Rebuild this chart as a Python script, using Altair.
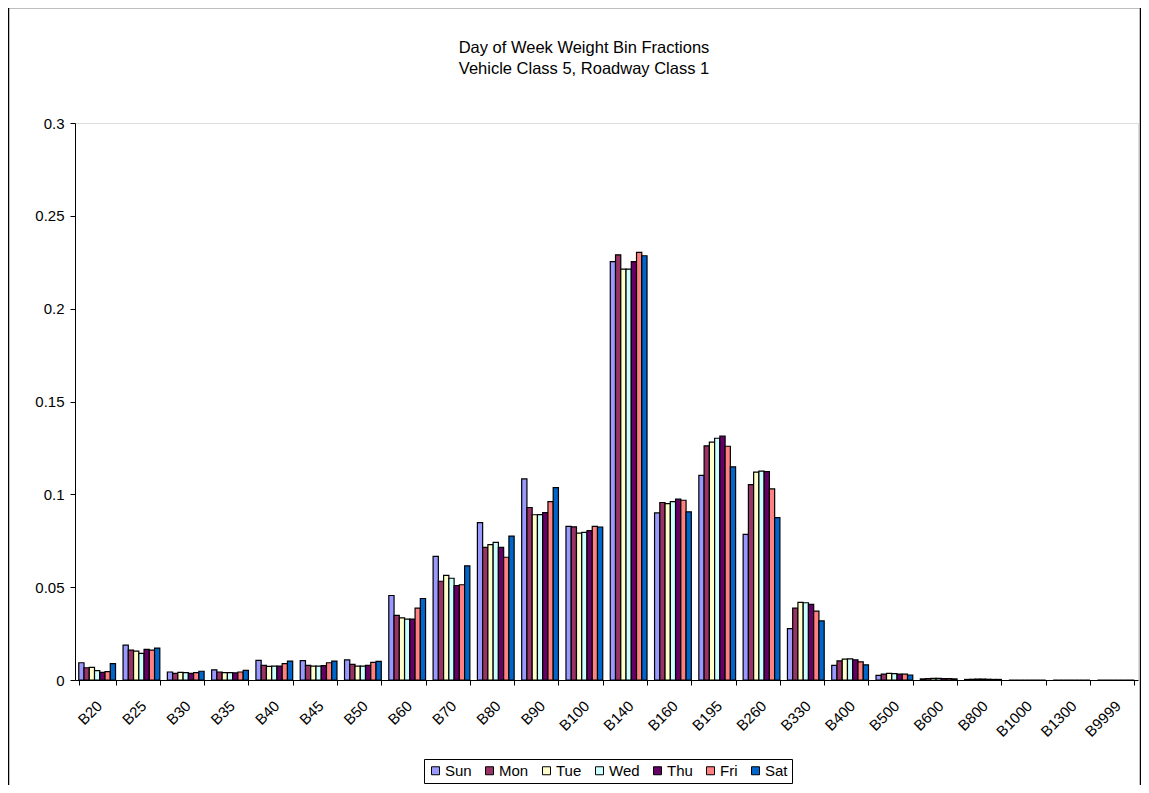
import altair as alt
import pandas as pd

bins = ["B20", "B25", "B30", "B35", "B40", "B45", "B50", "B60", "B70", "B80", "B90",
        "B100", "B140", "B160", "B195", "B260", "B330", "B400", "B500", "B600", "B800",
        "B1000", "B1300", "B9999"]
days = ["Sun", "Mon", "Tue", "Wed", "Thu", "Fri", "Sat"]
colors = ["#9999FF", "#993366", "#FFFFCC", "#CCFFFF", "#660066", "#FF8080", "#0066CC"]

sun = [0.0093, 0.0188, 0.0043, 0.0055, 0.0106, 0.0104, 0.0108, 0.0455, 0.0666, 0.0848, 0.1083,
       0.0827, 0.2253, 0.0900, 0.1102, 0.0784, 0.0277, 0.0079, 0.0025, 0.0006, 0.0003, 0, 0, 0]
mon = [0.0066, 0.0161, 0.0036, 0.0043, 0.0079, 0.0079, 0.0084, 0.0348, 0.0532, 0.0714, 0.0929,
       0.0825, 0.2290, 0.0956, 0.1261, 0.1052, 0.0387, 0.0103, 0.0032, 0.0008, 0.0004, 0, 0, 0]
tue = [0.0068, 0.0156, 0.0041, 0.0040, 0.0073, 0.0075, 0.0075, 0.0335, 0.0564, 0.0729, 0.0890,
       0.0791, 0.2213, 0.0950, 0.1281, 0.1120, 0.0418, 0.0112, 0.0036, 0.0009, 0.0005, 0, 0, 0]
wed = [0.0050, 0.0143, 0.0040, 0.0040, 0.0075, 0.0075, 0.0075, 0.0328, 0.0548, 0.0741, 0.0891,
       0.0795, 0.2213, 0.0961, 0.1302, 0.1125, 0.0416, 0.0114, 0.0034, 0.0009, 0.0005, 0, 0, 0]
thu = [0.0041, 0.0165, 0.0036, 0.0038, 0.0075, 0.0077, 0.0079, 0.0328, 0.0509, 0.0714, 0.0902,
       0.0804, 0.2253, 0.0974, 0.1313, 0.1122, 0.0407, 0.0109, 0.0032, 0.0008, 0.0004, 0, 0, 0]
fri = [0.0045, 0.0161, 0.0040, 0.0043, 0.0088, 0.0093, 0.0095, 0.0387, 0.0513, 0.0661, 0.0961,
       0.0827, 0.2303, 0.0968, 0.1259, 0.1029, 0.0371, 0.0098, 0.0032, 0.0007, 0.0003, 0, 0, 0]
sat = [0.0088, 0.0172, 0.0047, 0.0052, 0.0102, 0.0102, 0.0100, 0.0439, 0.0615, 0.0775, 0.1036,
       0.0824, 0.2285, 0.0906, 0.1148, 0.0875, 0.0318, 0.0082, 0.0027, 0.0006, 0.0003, 0, 0, 0]

y_ticks = [0, 0.05, 0.1, 0.15, 0.2, 0.25, 0.3]
title_lines = ["Day of Week Weight Bin Fractions", "Vehicle Class 5, Roadway Class 1"]

series = [sun, mon, tue, wed, thu, fri, sat]
rows = []
for d, vals in zip(days, series):
    for b, v in zip(bins, vals):
        rows.append({"bin": b, "day": d, "value": v})
df = pd.DataFrame(rows)

FONT = "Arial, Liberation Sans, sans-serif"
W, H = 1063, 557

bars = alt.Chart(df).mark_bar(stroke="black", strokeWidth=1.2).encode(
    x=alt.X("bin:N", sort=bins,
            scale=alt.Scale(paddingInner=0.17, paddingOuter=0.085),
            axis=alt.Axis(title=None, labelAngle=-45, labelAlign="right", labelBaseline="top",
                          labelPadding=13, labelOffset=-3, tickBand="extent", tickSize=5,
                          tickColor="black", domainColor="black", labelFontSize=15,
                          labelFont=FONT, labelColor="black", grid=False)),
    xOffset=alt.XOffset("day:N", sort=days, scale=alt.Scale(paddingInner=0, paddingOuter=0)),
    y=alt.Y("value:Q", scale=alt.Scale(domain=[0, 0.3], nice=False),
            axis=alt.Axis(title=None, values=y_ticks, format="~g", tickSize=5,
                          tickColor="black", domainColor="black", labelFontSize=15,
                          labelFont=FONT, labelColor="black", labelPadding=6, grid=False)),
    color=alt.Color("day:N", sort=days,
                    scale=alt.Scale(domain=days, range=colors),
                    legend=alt.Legend(title=None, orient="none", legendX=349, legendY=636,
                                      direction="horizontal", columns=7,
                                      symbolType="square", symbolSize=64,
                                      symbolStrokeColor="black", symbolStrokeWidth=1,
                                      symbolOpacity=1,
                                      labelFontSize=15, labelFont=FONT, labelColor="black",
                                      labelOffset=2, columnPadding=10,
                                      strokeColor="black", fillColor="white", padding=4)),
)

frame = alt.Chart(pd.DataFrame({"k": [0]})).mark_rect(
    filled=False, stroke="black", strokeWidth=1.5, clip=False
).encode(
    x=alt.value(-66.5), x2=alt.value(1065.5), y=alt.value(-115.5), y2=alt.value(700)
)

t1 = alt.Chart(pd.DataFrame({"t": [title_lines[0]]})).mark_text(
    font=FONT, fontSize=16.5, color="black", align="center", baseline="alphabetic"
).encode(text="t:N", x=alt.value(509), y=alt.value(-70.5))

t2 = alt.Chart(pd.DataFrame({"t": [title_lines[1]]})).mark_text(
    font=FONT, fontSize=16.5, color="black", align="center", baseline="alphabetic"
).encode(text="t:N", x=alt.value(509), y=alt.value(-49.5))

chart = alt.layer(frame, bars, t1, t2).properties(
    width=W, height=H,
    autosize=alt.AutoSizeParams(type="none"),
    padding={"left": 67, "top": 115, "right": 3, "bottom": 105},
).configure_view(stroke="#808080", strokeWidth=1).configure(background="white")

chart.save("out.html", embed_options={"renderer": "svg", "actions": False})
